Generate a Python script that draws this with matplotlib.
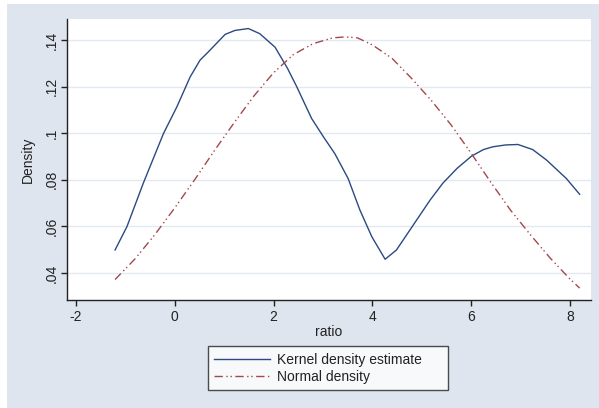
import matplotlib
matplotlib.use("Agg")
import matplotlib.pyplot as plt
from matplotlib.patches import Rectangle
from matplotlib.ticker import FuncFormatter

plt.rcParams['font.family'] = ['Liberation Sans', 'DejaVu Sans']

# kernel density estimate
kde_x = [-1.21, -0.97, -0.64, -0.23, 0.04, 0.31, 0.51, 0.68, 1.02, 1.22,
         1.49, 1.72, 2.03, 2.28, 2.47, 2.77, 3.01, 3.24, 3.51, 3.75,
         3.99, 4.26, 4.49, 4.76, 5.17, 5.43, 5.72, 6.01, 6.25, 6.44,
         6.70, 6.95, 7.25, 7.53, 7.93, 8.20]
kde_y = [0.0499, 0.0599, 0.0785, 0.0999, 0.1113, 0.1242, 0.1314, 0.1350, 0.1425, 0.1442,
         0.1450, 0.1428, 0.1370, 0.1280, 0.1200, 0.1064, 0.0985, 0.0913, 0.0806, 0.0670,
         0.0556, 0.0459, 0.0499, 0.0584, 0.0713, 0.0786, 0.0850, 0.0902, 0.0930, 0.0942,
         0.0950, 0.0952, 0.0930, 0.0885, 0.0806, 0.0738]

# normal density
norm_x = [-1.21, -0.80, -0.40, 0.00, 0.40, 0.80, 1.20, 1.60, 2.00, 2.40,
          2.80, 3.20, 3.45, 3.70, 4.00, 4.40, 4.80, 5.20, 5.60, 6.00,
          6.40, 6.80, 7.20, 7.60, 8.00, 8.20]
norm_y = [0.0372, 0.0462, 0.0566, 0.0680, 0.0800, 0.0925, 0.1045, 0.1160, 0.1260, 0.1338,
          0.1385, 0.1410, 0.1414, 0.1410, 0.1380, 0.1322, 0.1235, 0.1140, 0.1035, 0.0915,
          0.0790, 0.0670, 0.0565, 0.0465, 0.0375, 0.0335]

x_ticks = [-2, 0, 2, 4, 6, 8]
y_ticks = [0.04, 0.06, 0.08, 0.10, 0.12, 0.14]

bg = '#dfe5ef'
navy = '#2b4a80'
maroon = '#a3484c'

fig = plt.figure(figsize=(5.99, 4.08), dpi=100, facecolor='white')
fig.patches.append(Rectangle((7 / 599, 0), 1, 1 - 4 / 408, transform=fig.transFigure,
                             facecolor=bg, edgecolor='none', zorder=-10))

ax = fig.add_axes([66.7 / 599, 1 - 300 / 408, (591 - 66.7) / 599, (300 - 19) / 408])
ax.set_facecolor('white')

ax.plot(kde_x, kde_y, color=navy, lw=1.0, label='Kernel density estimate')
ax.plot(norm_x, norm_y, color=maroon, lw=1.0, dashes=(6, 2.5, 1, 2, 1, 2.5),
        label='Normal density')

ax.set_xlim(-2.19, 8.43)
ax.set_ylim(0.0284, 0.1491)
ax.set_xticks(x_ticks)
ax.set_yticks(y_ticks)
ax.yaxis.set_major_formatter(FuncFormatter(lambda v, p: ('%g' % round(v, 2)).lstrip('0')))
ax.xaxis.set_major_formatter(FuncFormatter(lambda v, p: '%g' % v))
ax.grid(axis='y', color='#e3e9f1', lw=1.0)
ax.set_axisbelow(True)

for s in ['top', 'right']:
    ax.spines[s].set_visible(False)
for s in ['left', 'bottom']:
    ax.spines[s].set_color('#222222')
    ax.spines[s].set_linewidth(1.0)

ax.tick_params(axis='both', direction='out', length=4, width=1, color='#222222',
               labelsize=10, labelcolor='#222222')
ax.tick_params(axis='x', pad=3)
ax.tick_params(axis='y', pad=2)
for lbl in ax.get_yticklabels():
    lbl.set_rotation(90)
    lbl.set_va('center')

ax.set_xlabel('ratio', fontsize=10, color='#222222', labelpad=1)
ax.set_ylabel('Density', fontsize=10, color='#222222', labelpad=7)

leg = fig.legend(loc='center', mode='expand',
                 bbox_to_anchor=(208 / 599, 1 - 391 / 408, 240 / 599, 45.3 / 408),
                 fontsize=10, frameon=True, fancybox=False, handlelength=4.0,
                 handletextpad=0.55, borderpad=0.45, labelspacing=0.25,
                 borderaxespad=0)
leg.get_frame().set_edgecolor('#222222')
leg.get_frame().set_linewidth(1.0)
leg.get_frame().set_facecolor('white')
for t in leg.get_texts():
    t.set_color('#222222')

fig.savefig('out.png', dpi=100, facecolor=fig.get_facecolor())
